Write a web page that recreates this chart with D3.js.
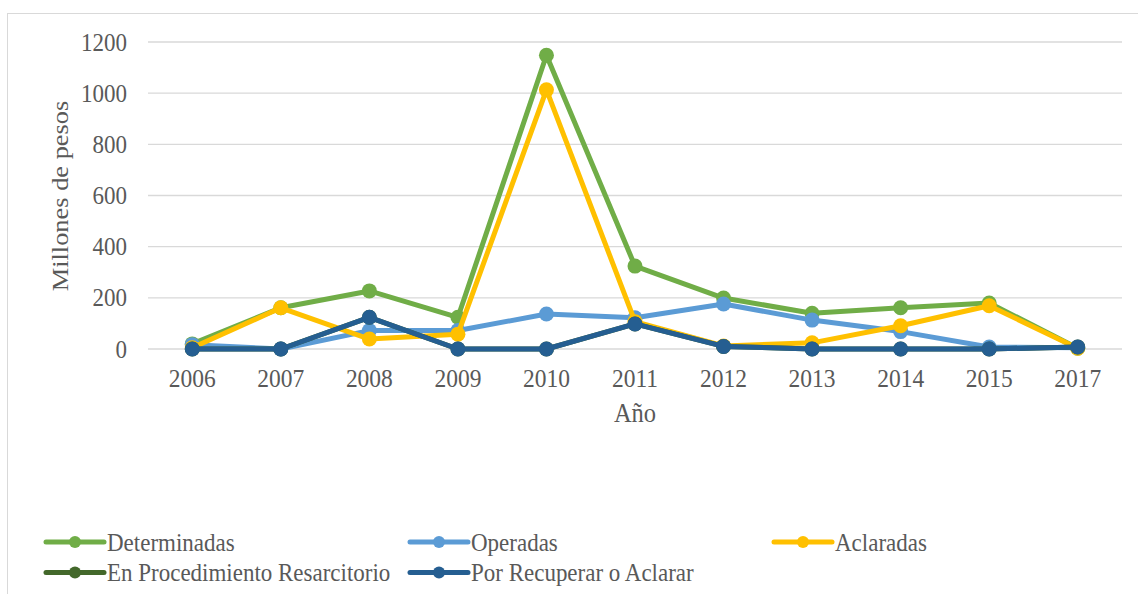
<!DOCTYPE html>
<html>
<head>
<meta charset="utf-8">
<script src="https://cdn.jsdelivr.net/npm/d3@7"></script>
<style>
  body { margin: 0; background: #fff; }
  svg text { font-family: "Liberation Serif", "Times New Roman", serif; fill: #595959; }
</style>
</head>
<body>
<script>
const years = ['2006', '2007', '2008', '2009', '2010', '2011', '2012', '2013', '2014', '2015', '2017']
const determinadas = [20, 161, 227, 124, 1148, 324, 199, 140, 161, 180, 3]
const operadas = [17, 0, 72, 72, 137, 122, 176, 113, 68, 8, 5]
const aclaradas = [5, 161, 39, 58, 1013, 107, 12, 24, 91, 169, 3]
const enProcedimiento = [0, 0, 124, 0, 0, 98, 10, 0, 0, 0, 8]
const porRecuperar = [0, 0, 124, 0, 0, 98, 10, 0, 0, 0, 8]
const yTicks = [0, 200, 400, 600, 800, 1000, 1200]

const series = [
  { name: 'Determinadas', values: determinadas, color: '#70AD47' },
  { name: 'Operadas', values: operadas, color: '#5B9BD5' },
  { name: 'Aclaradas', values: aclaradas, color: '#FFC000' },
  { name: 'En Procedimiento Resarcitorio', values: enProcedimiento, color: '#43682B' },
  { name: 'Por Recuperar o Aclarar', values: porRecuperar, color: '#255E91' }
]

const width = 1138
const height = 594
const stretch = 1.1 // the text in the picture is a bit taller than wide

const svg = d3.select('body').append('svg')
  .attr('width', width)
  .attr('height', height)

// chart frame (top and left edges show)
svg.append('rect')
  .attr('x', 7.5).attr('y', 13.5)
  .attr('width', 1140).attr('height', 600)
  .attr('fill', 'none').attr('stroke', '#d9d9d9')

const x = d3.scalePoint()
  .domain(years)
  .range([148, 1122])
  .padding(0.5)

const y = d3.scaleLinear()
  .domain([0, 1200])
  .range([349, 42])

function label (g, tx, ty, size, anchor, rot) {
  return g.append('text')
    .attr('transform', 'translate(' + tx + ',' + ty + ') scale(1,' + stretch + ')' + (rot ? ' rotate(' + rot + ')' : ''))
    .attr('text-anchor', anchor)
    .attr('font-size', size)
}

// gridlines
svg.append('g').selectAll('line')
  .data(yTicks)
  .enter().append('line')
  .attr('x1', 148).attr('x2', 1122)
  .attr('y1', d => y(d)).attr('y2', d => y(d))
  .attr('stroke', '#d9d9d9').attr('stroke-width', 1.3)

// y tick labels
const yAxis = svg.append('g')
yTicks.forEach(t => {
  label(yAxis, 127, y(t), 23, 'end').attr('dy', '0.34em').text(t)
})

// x tick labels
const xAxis = svg.append('g')
x.domain().forEach(c => {
  label(xAxis, x(c), 387, 23.5, 'middle').text(c)
})

label(svg, 68, 196, 24, 'middle', -90).text('Millones de pesos')
label(svg, x('2011'), 422, 24.5, 'middle').text('Año')

const line = d3.line()
  .x((d, i) => x(years[i]))
  .y(d => y(d))

const layer = svg.selectAll('.series')
  .data(series)
  .enter().append('g')
  .attr('class', 'series')

layer.append('path')
  .attr('d', d => line(d.values))
  .attr('fill', 'none')
  .attr('stroke', d => d.color)
  .attr('stroke-width', 5)
  .attr('stroke-linejoin', 'round')

layer.selectAll('circle')
  .data(d => d.values.map((v, i) => ({ v, i, color: d.color })))
  .enter().append('circle')
  .attr('cx', d => x(years[d.i]))
  .attr('cy', d => y(d.v))
  .attr('r', 7.5)
  .attr('fill', d => d.color)

// legend
const legend = svg.selectAll('.legend')
  .data(series)
  .enter().append('g')
  .attr('class', 'legend')
  .attr('transform', (d, i) => 'translate(' + (46 + (i % 3) * 364) + ',' + (542 + Math.floor(i / 3) * 30.5) + ')')

legend.append('line')
  .attr('x1', 0).attr('x2', 58)
  .attr('stroke', d => d.color)
  .attr('stroke-width', 5)
  .attr('stroke-linecap', 'round')
legend.append('circle')
  .attr('cx', 29).attr('r', 6)
  .attr('fill', d => d.color)
legend.each(function (d) {
  label(d3.select(this), 61, 0, 23, 'start').attr('dy', '0.34em').text(d.name)
})
</script>
</body>
</html>
